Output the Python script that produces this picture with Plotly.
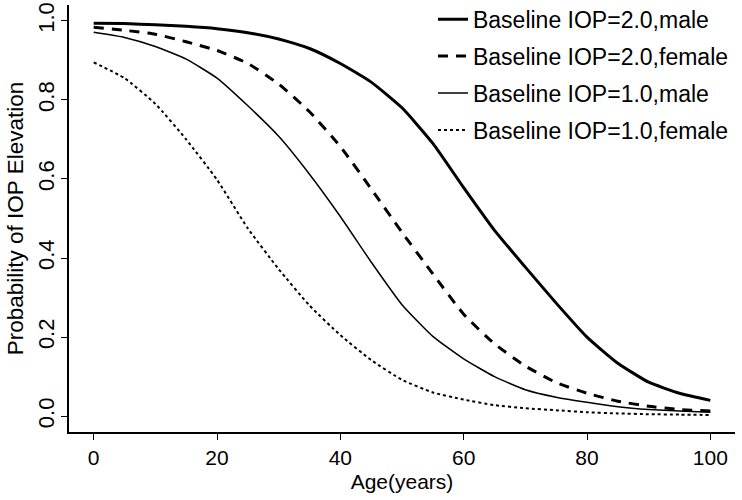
import plotly.graph_objects as go

ages = [0, 5, 10, 15, 20, 25, 30, 35, 40, 45, 50, 55, 60, 65, 70, 75, 80, 85, 90, 95, 100]

iop2_male = [0.994, 0.993, 0.990, 0.986, 0.980, 0.970, 0.954, 0.930, 0.892, 0.845, 0.780,
             0.690, 0.578, 0.470, 0.377, 0.286, 0.200, 0.134, 0.086, 0.058, 0.040]
iop2_female = [0.984, 0.976, 0.966, 0.947, 0.925, 0.892, 0.840, 0.770, 0.682, 0.575, 0.465,
               0.360, 0.258, 0.183, 0.127, 0.085, 0.058, 0.038, 0.025, 0.017, 0.013]
iop1_male = [0.971, 0.958, 0.935, 0.903, 0.855, 0.785, 0.708, 0.612, 0.505, 0.390, 0.282,
             0.202, 0.145, 0.100, 0.067, 0.048, 0.035, 0.024, 0.017, 0.013, 0.010]
iop1_female = [0.895, 0.855, 0.790, 0.700, 0.598, 0.475, 0.372, 0.280, 0.205, 0.142, 0.092,
               0.060, 0.042, 0.028, 0.020, 0.015, 0.010, 0.007, 0.005, 0.004, 0.003]

names = ["Baseline IOP=2.0,male", "Baseline IOP=2.0,female",
         "Baseline IOP=1.0,male", "Baseline IOP=1.0,female"]
series = [iop2_male, iop2_female, iop1_male, iop1_female]
styles = [dict(width=3, dash="solid"), dict(width=3, dash="10px,8px"),
          dict(width=1.5, dash="solid"), dict(width=2, dash="3px,3px")]

FONT = "Arial, Liberation Sans, sans-serif"

fig = go.Figure()
for i, (nm, ys, st) in enumerate(zip(names, series, styles)):
    fig.add_trace(go.Scatter(
        x=ages, y=ys, name=nm, mode="lines", legendgroup=f"g{i}",
        line=dict(color="black", shape="spline", smoothing=0.5, **st)))

axis_common = dict(showline=True, linecolor="black", linewidth=1.6, mirror=False,
                   ticks="outside", ticklen=6, tickwidth=1.4, tickcolor="black",
                   showgrid=False, zeroline=False, automargin=False,
                   ticklabeloverflow="allow")

fig.update_layout(
    width=742, height=500,
    margin=dict(l=69, r=7, t=5, b=68, autoexpand=False),
    paper_bgcolor="white", plot_bgcolor="white",
    font=dict(family=FONT, size=21, color="black"),
    xaxis=dict(range=[-4, 104], tickvals=[0, 20, 40, 60, 80, 100],
               tickfont=dict(family=FONT, size=21, color="black"),
               title=dict(text="Age(years)", font=dict(family=FONT, size=21), standoff=6),
               **axis_common),
    yaxis=dict(range=[-0.04, 1.04], tickvals=[0, 0.2, 0.4, 0.6, 0.8, 1.0],
               ticktext=["0.0", "0.2", "0.4", "0.6", "0.8", "1.0"], tickangle=-90,
               ticklabelstandoff=-2,
               tickfont=dict(family=FONT, size=22, color="black"),
               title=dict(text="Probability of IOP Elevation", font=dict(family=FONT, size=22.5), standoff=5),
               **axis_common),
    legend=dict(x=0.5465, y=1.017, xanchor="left", yanchor="top", bgcolor="rgba(0,0,0,0)",
                font=dict(family=FONT, size=23), tracegroupgap=4, itemwidth=30),
    showlegend=True,
)

# remove the page's default 8px body margin so the figure fills the window exactly
fig.write_html("out.html", config={"displayModeBar": False},
               post_script="document.body.style.margin='0';")
